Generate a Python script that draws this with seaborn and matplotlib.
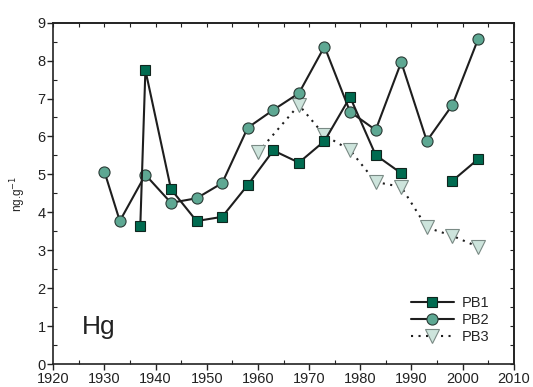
import numpy as np
import pandas as pd
import matplotlib
matplotlib.use("Agg")
import matplotlib.pyplot as plt
import seaborn as sns
from matplotlib.lines import Line2D
from matplotlib.ticker import MultipleLocator

sns.set_theme(style="ticks")
plt.rcParams['font.family'] = ['Liberation Sans', 'DejaVu Sans']

pb1_years = [1937, 1938, 1943, 1948, 1953, 1958, 1963, 1968, 1973, 1978, 1983, 1988, 1998, 2003]
pb1_vals = [3.63, 7.75, 4.61, 3.77, 3.88, 4.72, 5.63, 5.31, 5.88, 7.04, 5.51, 5.03, 4.83, 5.40]
pb1_seg = [0, 0, 0, 0, 0, 0, 0, 0, 0, 0, 0, 0, 1, 1]

pb2_years = [1930, 1933, 1938, 1943, 1948, 1953, 1958, 1963, 1968, 1973, 1978, 1983, 1988, 1993, 1998, 2003]
pb2_vals = [5.07, 3.77, 4.99, 4.25, 4.37, 4.77, 6.23, 6.70, 7.14, 8.37, 6.65, 6.17, 7.96, 5.88, 6.83, 8.56]

pb3_years = [1960, 1968, 1973, 1978, 1983, 1988, 1993, 1998, 2003]
pb3_vals = [5.58, 6.83, 6.03, 5.64, 4.80, 4.67, 3.60, 3.38, 3.09]

c1, c2, c3 = "#006b50", "#5ea893", "#cde4dc"
lc = "#1e1e1e"

fig = plt.figure(figsize=(5.33, 3.87), dpi=100)
ax = fig.add_axes([0.100, 0.0594, 0.864, 0.8820])

d1 = pd.DataFrame({"year": pb1_years, "val": pb1_vals, "seg": pb1_seg})
d2 = pd.DataFrame({"year": pb2_years, "val": pb2_vals})
d3 = pd.DataFrame({"year": pb3_years, "val": pb3_vals})

dot = (0, (1, 2.6))
sns.lineplot(data=d3, x="year", y="val", ax=ax, color=lc, linestyle=dot, lw=1.5,
             marker="v", markersize=9.5, markerfacecolor=c3, markeredgecolor="#7a8a85",
             markeredgewidth=0.8, estimator=None, sort=False, zorder=2)
sns.lineplot(data=d2, x="year", y="val", ax=ax, color=lc, lw=1.5,
             marker="o", markersize=8, markerfacecolor=c2, markeredgecolor="#2a3a35",
             markeredgewidth=0.8, estimator=None, sort=False, zorder=3)
sns.lineplot(data=d1, x="year", y="val", units="seg", ax=ax, color=lc, lw=1.5,
             marker="s", markersize=7, markerfacecolor=c1, markeredgecolor="#10251e",
             markeredgewidth=0.8, estimator=None, sort=False, zorder=4)

ax.set_xlim(1920, 2010)
ax.set_ylim(0, 9)
ax.xaxis.set_major_locator(MultipleLocator(10))
ax.xaxis.set_minor_locator(MultipleLocator(5))
ax.yaxis.set_major_locator(MultipleLocator(1))
ax.yaxis.set_minor_locator(MultipleLocator(0.5))
ax.set_xlabel("")
ax.set_ylabel("ng.g$^{-1}$", fontsize=8.5, color="#222222", labelpad=7)

for s in ax.spines.values():
    s.set_visible(True)
    s.set_linewidth(1.2)
    s.set_color("#222222")

ax.tick_params(which="major", direction="out", length=4, width=1, labelsize=10.5,
               colors="#222222", top=False, right=False, pad=1.5)
ax.tick_params(which="minor", direction="in", length=3, width=0.8, top=False, right=False,
               colors="#222222")

secx = ax.secondary_xaxis("top")
secx.xaxis.set_major_locator(MultipleLocator(10))
secx.xaxis.set_minor_locator(MultipleLocator(5))
secx.tick_params(which="both", direction="in", length=3, width=0.8, labeltop=False, colors="#222222")
secy = ax.secondary_yaxis("right")
secy.yaxis.set_major_locator(MultipleLocator(1))
secy.yaxis.set_minor_locator(MultipleLocator(0.5))
secy.tick_params(which="both", direction="in", length=3, width=0.8, labelright=False, colors="#222222")
for sa in (secx, secy):
    for s in sa.spines.values():
        s.set_linewidth(1.2)
        s.set_color("#222222")

ax.text(1925.6, 0.79, "Hg", fontsize=19, color="#222222", ha="left", va="baseline")

handles = [
    Line2D([], [], color=lc, lw=1.5, marker="s", markersize=7, markerfacecolor=c1,
           markeredgecolor="#10251e", markeredgewidth=0.8),
    Line2D([], [], color=lc, lw=1.5, marker="o", markersize=8, markerfacecolor=c2,
           markeredgecolor="#2a3a35", markeredgewidth=0.8),
    Line2D([], [], color=lc, lw=1.5, linestyle=dot, marker="v", markersize=9.5,
           markerfacecolor=c3, markeredgecolor="#7a8a85", markeredgewidth=0.8),
]
ax.legend(handles, ["PB1", "PB2", "PB3"], loc="lower right", frameon=False, fontsize=10.5,
          handlelength=3.0, handletextpad=0.5, labelspacing=0.2,
          bbox_to_anchor=(0.975, 0.02))

fig.savefig("out.png", dpi=100)
